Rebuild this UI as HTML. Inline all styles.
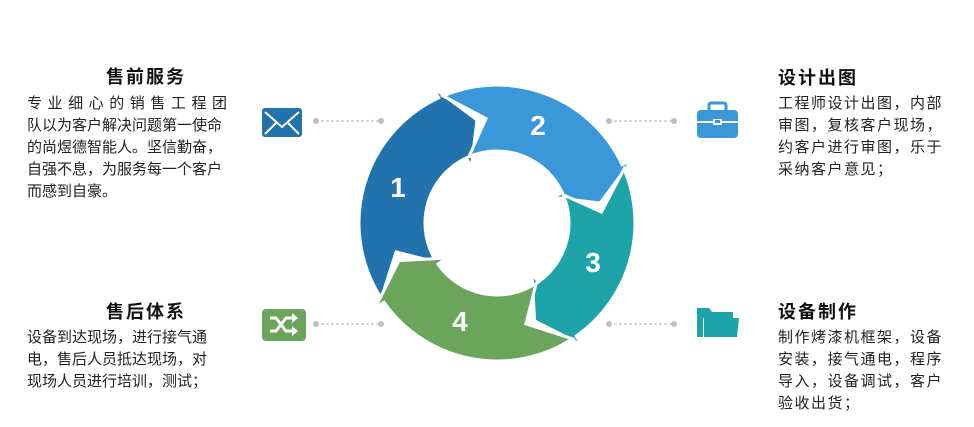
<!DOCTYPE html>
<html><head><meta charset="utf-8"><style>
body{margin:0;width:974px;height:427px;background:#fff;position:relative;overflow:hidden;font-family:"Liberation Sans","Noto Sans CJK SC",sans-serif;color:#222}
.t{position:absolute;font-size:18px;font-weight:bold;color:#111;line-height:22px;letter-spacing:2px}
.b{position:absolute;font-size:15px;line-height:22px;color:#222;white-space:nowrap}
svg{position:absolute;left:0;top:0}
</style></head><body>
<svg width="974" height="427" id="s">
<g stroke="#b8c0cc" stroke-width="1.3" stroke-dasharray="3,2">
<line x1="316" y1="121" x2="381" y2="121"/><line x1="609" y1="121" x2="674" y2="121"/>
<line x1="316" y1="324" x2="381" y2="324"/><line x1="609" y1="324" x2="674" y2="324"/>
</g>
<g fill="#b8c0cc">
<circle cx="316" cy="121" r="3"/><circle cx="381" cy="121" r="3"/><circle cx="609" cy="121" r="3"/><circle cx="674" cy="121" r="3"/>
<circle cx="316" cy="324" r="3"/><circle cx="381" cy="324" r="3"/><circle cx="609" cy="324" r="3"/><circle cx="674" cy="324" r="3"/>
</g>
<rect x="262" y="108" width="40" height="29" rx="3" fill="#2272ad"/>
<path d="M265 112 L282 127 L299 112 M265 134 L276 123 M299 134 L288 123" stroke="#fff" stroke-width="2" fill="none"/>
<rect x="262" y="309" width="44" height="32" rx="4" fill="#6aa55b"/>
<path d="M270 318 h6 l10 13 h7 M270 331 h6 l10 -13 h7" stroke="#fff" stroke-width="3" fill="none"/>
<path d="M292 313 l6 5 l-6 5z M292 326 l6 5 l-6 5z" fill="#fff"/>
<rect x="697" y="110" width="41" height="28" rx="4" fill="#3a98d9"/>
<rect x="709" y="103" width="17" height="9" rx="2" fill="none" stroke="#3a98d9" stroke-width="3"/>
<rect x="697" y="121" width="41" height="2" fill="#fff"/>
<rect x="713" y="119" width="9" height="6" fill="#fff"/><rect x="715" y="120" width="5" height="3" fill="#3a98d9"/>
<path d="M697 308 h12 l3 4 h21 v6 h-30 v19 h-6z" fill="#1ea4a8"/>
<path d="M704 318 h35 l-2 19 h-33z" fill="#1ea4a8"/>
<g id="ring"></g>
<g font-family="Liberation Sans,sans-serif" font-weight="bold" font-size="28" fill="#fff" text-anchor="middle">
<text x="398" y="197">1</text><text x="538" y="135">2</text><text x="593" y="272">3</text><text x="460" y="331">4</text>
</g>
</svg>
<div class="t" style="left:106px;top:66px">售前服务</div>
<div class="b" style="left:27px;top:93px;width:200px">
<div style="text-align:justify;text-align-last:justify;width:200px">专 业 细 心 的 销 售 工 程 团</div>队以为客户解决问题第一使命<br>的尚煜德智能人。坚信勤奋，<br>自强不息，为服务每一个客户<br>而感到自豪。</div>
<div class="t" style="left:106px;top:301px">售后体系</div>
<div class="b" style="left:27px;top:327px">设备到达现场，进行接气通<br>电，售后人员抵达现场，对<br>现场人员进行培训，测试；</div>
<div class="t" style="left:778px;top:67px">设计出图</div>
<div class="b" style="left:778px;top:93px;letter-spacing:1.5px">工程师设计出图，内部<br>审图，复核客户现场，<br>约客户进行审图，乐于<br>采纳客户意见；</div>
<div class="t" style="left:778px;top:301px">设备制作</div>
<div class="b" style="left:778px;top:327px;letter-spacing:1.5px">制作烤漆机框架，设备<br>安装，接气通电，程序<br>导入，设备调试，客户<br>验收出货；</div>
<script>
(function(){
var cx=497,cy=223,R=138,r=72,m=(R+r)/2,H=14,T=17;
function p(a,rad){a=a*Math.PI/180;return (cx+rad*Math.sin(a)).toFixed(1)+' '+(cy-rad*Math.cos(a)).toFixed(1);}
var segs=[[235,335,'#2272ad'],[335,425,'#3a98d9'],[425,505,'#1ea4a8'],[505,595,'#6aa55b']];
var g=document.getElementById('ring'),h='';
segs.forEach(function(s){
var a0=s[0]+2,a1=s[1];
var d='M'+p(a0,R)+' A'+R+' '+R+' 0 0 1 '+p(a1,R)+' L'+p(a1,R+11)+' L'+p(a1+H,m)+' L'+p(a1,r-11)+' L'+p(a1,r)+' A'+r+' '+r+' 0 0 0 '+p(a0,r)+' L'+p(a0+T,m)+' Z';
h+='<path d="'+d+'" fill="'+s[2]+'" stroke="#fff" stroke-width="3" stroke-linejoin="miter"/>';
});
g.innerHTML=h;
})();
</script>
</body></html>
